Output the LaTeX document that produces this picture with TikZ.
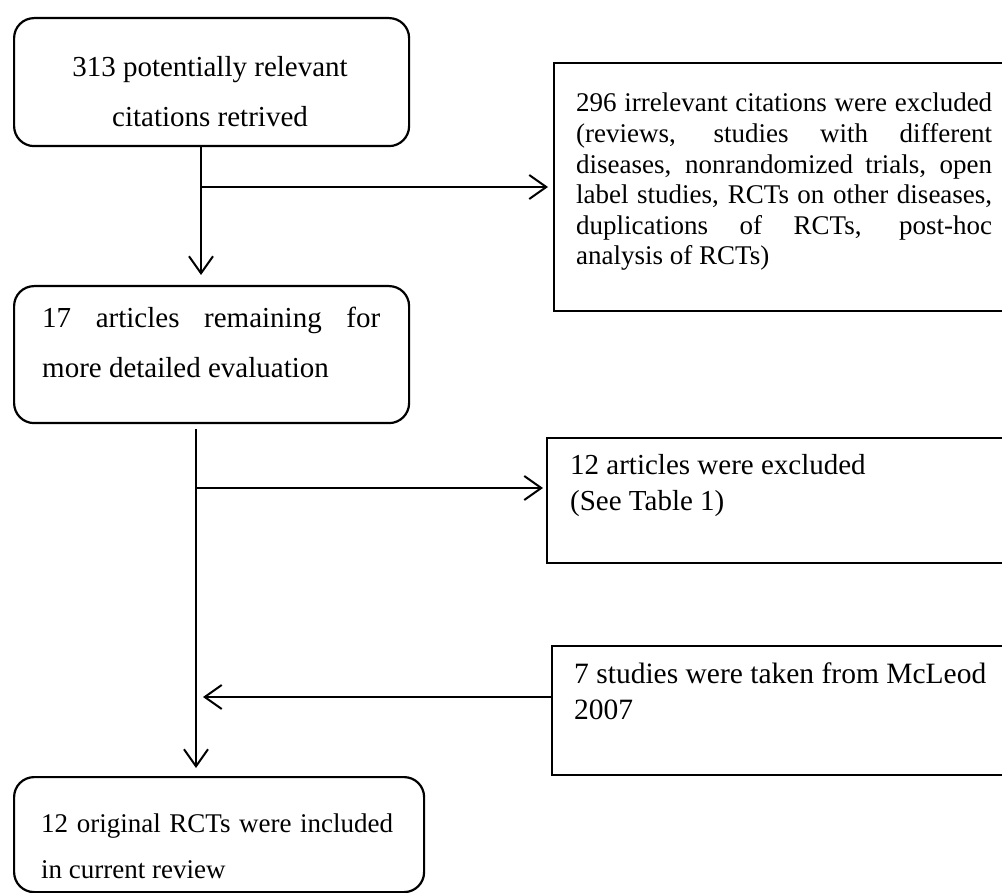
\documentclass[tikz,border=0pt]{standalone}
\usepackage{fontspec}
\setmainfont{Liberation Serif}
\usetikzlibrary{arrows.meta}
\tikzset{
  box/.style={draw, line width=2.2pt, inner sep=0pt, anchor=north west, shape=rectangle},
  rbox/.style={box, rounded corners=20pt},
  txt/.style={inner sep=0pt, anchor=base west, font=\fontsize{29}{32}\selectfont},
  stxt/.style={txt, font=\fontsize{27}{30}\selectfont},
  ctxt/.style={txt, anchor=base},
  arr/.style={line width=2pt, -{Straight Barb[length=17pt,width=24pt,line width=2pt]}},
  ln/.style={line width=2pt}
}
\begin{document}
\begin{tikzpicture}[x=1pt,y=-1pt]
\useasboundingbox (0,0) rectangle (1002,893);
\clip (0,0) rectangle (1002,893);
% boxes
\node[rbox, minimum width=395pt, minimum height=128pt] (b1) at (13,17) {};
\node[box, minimum width=470pt, minimum height=248pt] (b2) at (553,62) {};
\node[rbox, minimum width=395pt, minimum height=137pt] (b3) at (13,285) {};
\node[box, minimum width=480pt, minimum height=125pt] (b4) at (546,437) {};
\node[box, minimum width=480pt, minimum height=129pt] (b5) at (551,645) {};
\node[rbox, minimum width=410pt, minimum height=115pt] (b6) at (13,776) {};
% texts
\node[ctxt] (t1a) at (210,77) {313 potentially relevant};
\node[ctxt] (t1b) at (210,127) {citations retrived};
\node[stxt] (t2a) at (576,112) {\makebox[416pt][s]{296 irrelevant citations were excluded}};
\node[stxt] (t2b) at (576,143) {\makebox[416pt][s]{(reviews, studies with different}};
\node[stxt] (t2c) at (576,174) {\makebox[416pt][s]{diseases, nonrandomized trials, open}};
\node[stxt] (t2d) at (576,204) {\makebox[416pt][s]{label studies, RCTs on other diseases,}};
\node[stxt] (t2e) at (576,235) {\makebox[416pt][s]{duplications of RCTs, post-hoc}};
\node[stxt] (t2f) at (576,265) {analysis of RCTs)};
\node[txt] (t3a) at (42,328) {\makebox[338pt][s]{17 articles remaining for}};
\node[txt] (t3b) at (42,378) {more detailed evaluation};
\node[txt] (t4a) at (570,475) {12 articles were excluded};
\node[txt] (t4b) at (570,510) {(See Table 1)};
\node[txt, font=\fontsize{29.5}{32}\selectfont] (t5a) at (574,683) {7 studies were taken from McLeod};
\node[txt, font=\fontsize{29.5}{32}\selectfont] (t5b) at (574,719) {2007};
\node[stxt] (t6a) at (41,832) {\makebox[352pt][s]{12 original RCTs were included}};
\node[stxt] (t6b) at (41,878) {in current review};
% connectors
\coordinate (j1) at (201,187);
\coordinate (j2) at (196,488);
\coordinate (j3) at (196,697);
\draw[arr, shorten >=10pt] (b1.south -| j1) -- (b3.north -| j1);
\draw[arr, shorten >=5pt] (j1) -- (b2.west |- j1);
\draw[arr, shorten <=5pt, shorten >=8pt] (b3.south -| j2) -- (b6.north -| j2);
\draw[arr, shorten >=3pt] (j2) -- (b4.west |- j2);
\draw[arr, shorten >=7pt] (b5.west |- j3) -- (j3);
\end{tikzpicture}
\end{document}
